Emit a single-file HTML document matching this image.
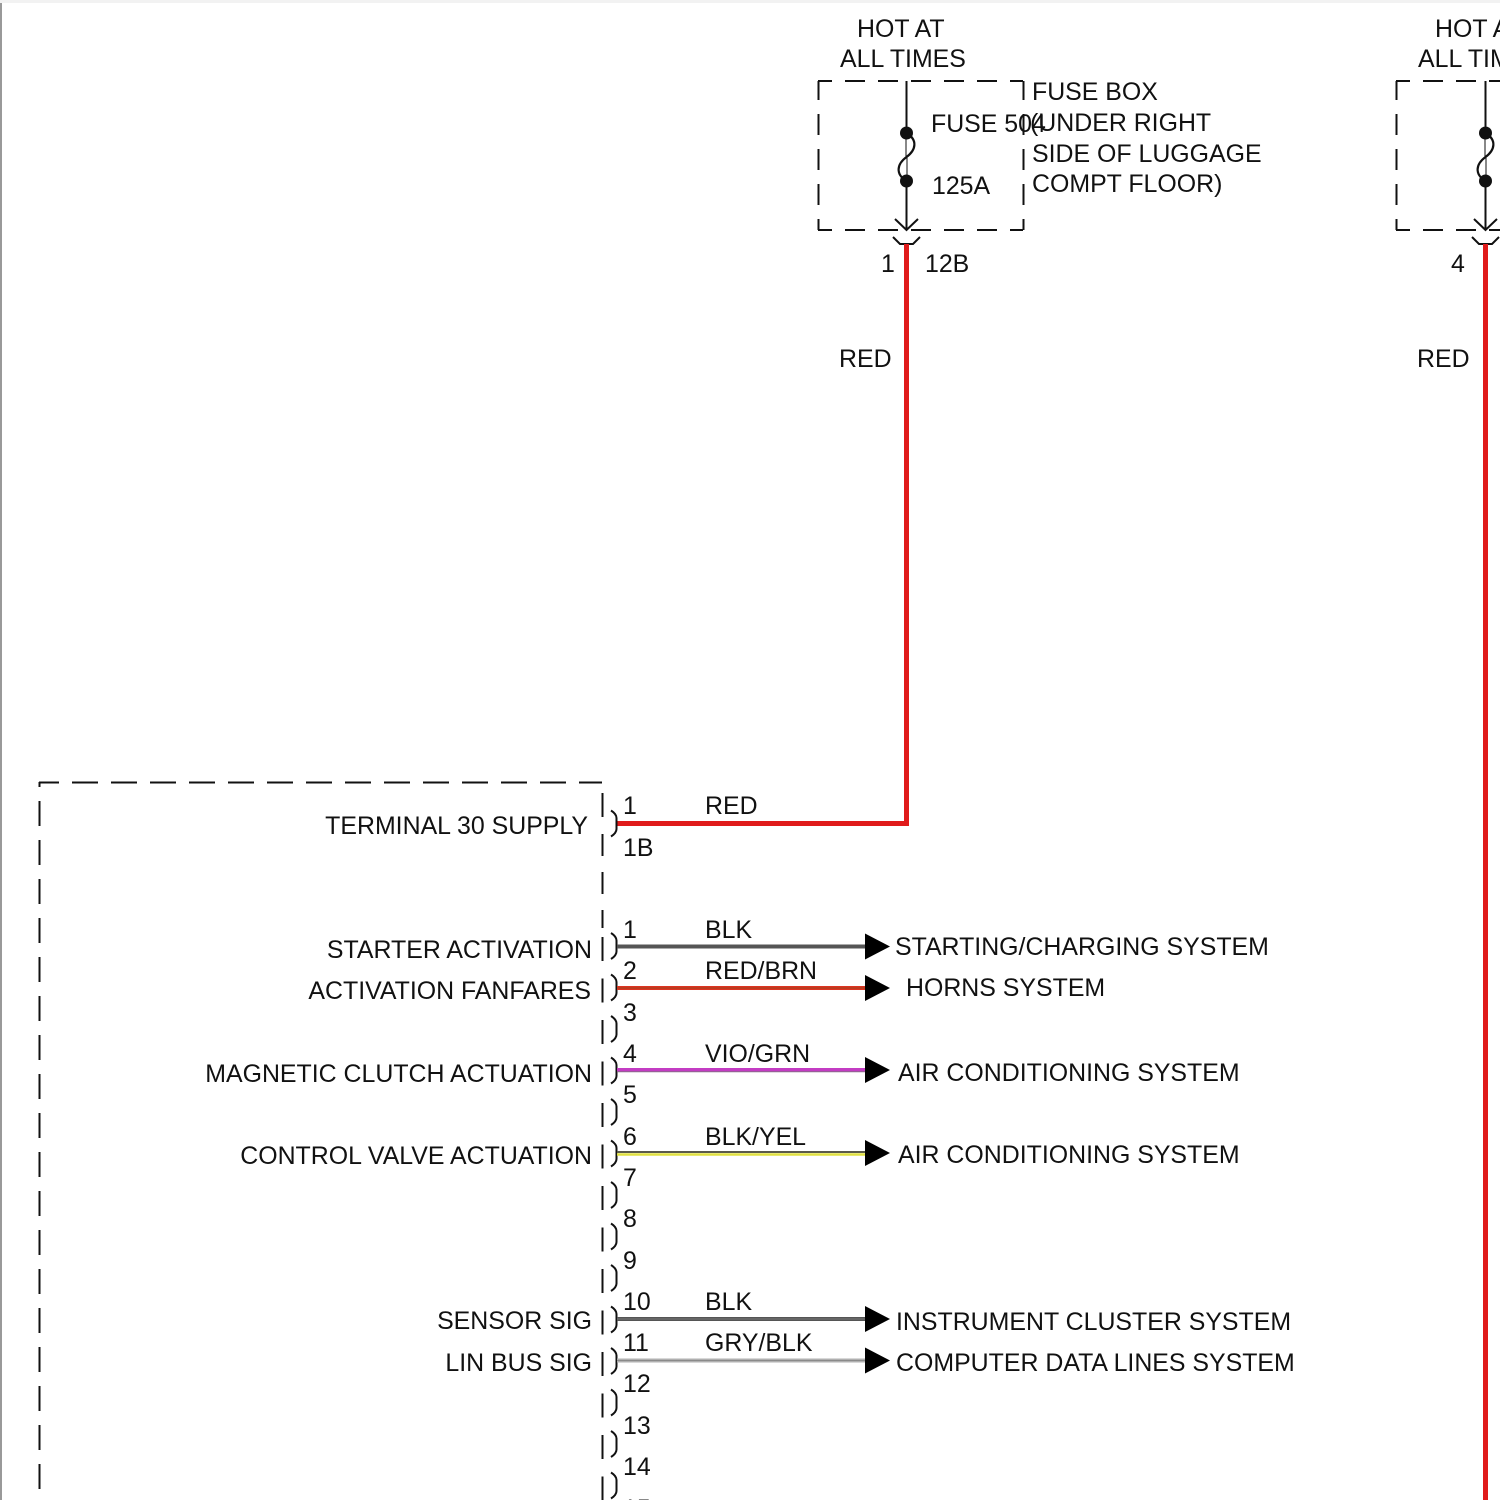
<!DOCTYPE html>
<html><head><meta charset="utf-8"><style>
html,body{margin:0;padding:0;background:#fff;}
svg{display:block;}
text{font-family:"Liberation Sans",Arial,sans-serif;font-size:24.9px;fill:#111;}
</style></head><body>
<svg width="1500" height="1500" viewBox="0 0 1500 1500" xmlns="http://www.w3.org/2000/svg">
<rect x="0" y="0" width="1500" height="1500" fill="#fff"/>
<line x1="1" y1="0" x2="1" y2="1500" stroke="#999" stroke-width="2"/>
<line x1="0" y1="1.5" x2="1500" y2="1.5" stroke="#f2f2f2" stroke-width="3"/>

<!-- Fuse box 1 -->
<g stroke="#111" stroke-width="2" fill="none">
<line x1="818" y1="81" x2="1023" y2="81" stroke-dasharray="20 13" stroke-dashoffset="6"/>
<line x1="818" y1="230" x2="1023" y2="230" stroke-dasharray="20 13" stroke-dashoffset="6"/>
<line x1="818.5" y1="81" x2="818.5" y2="230" stroke-dasharray="21 14" stroke-dashoffset="2"/>
<line x1="1023.5" y1="81" x2="1023.5" y2="230" stroke-dasharray="21 14" stroke-dashoffset="2"/>
<line x1="906.5" y1="81" x2="906.5" y2="230"/>
<path d="M906.5,133 C918,140 916,150 906.5,157 C897,164 895,174 906.5,181" fill="#fff" stroke-width="2.2"/>
<polyline points="895,219 906.5,230 918,219"/>
<polyline points="893,237 900,244 913,244 920,237"/>
</g>
<circle cx="906.5" cy="133" r="6.5" fill="#111"/>
<circle cx="906.5" cy="181" r="6.5" fill="#111"/>
<!-- red wire 1 -->
<polyline points="906.5,244 906.5,823.5 617,823.5" fill="none" stroke="#e01b1b" stroke-width="5"/>

<!-- Fuse box 2 -->
<g stroke="#111" stroke-width="2" fill="none">
<line x1="1396" y1="81" x2="1500" y2="81" stroke-dasharray="20 13" stroke-dashoffset="6"/>
<line x1="1396" y1="230" x2="1500" y2="230" stroke-dasharray="20 13" stroke-dashoffset="6"/>
<line x1="1396.5" y1="81" x2="1396.5" y2="230" stroke-dasharray="21 14" stroke-dashoffset="2"/>
<line x1="1485.5" y1="81" x2="1485.5" y2="230"/>
<path d="M1485.5,133 C1497,140 1495,150 1485.5,157 C1476,164 1474,174 1485.5,181" fill="#fff" stroke-width="2.2"/>
<polyline points="1474,219 1485.5,230 1497,219"/>
<polyline points="1472,237 1479,244 1492,244 1499,237"/>
</g>
<circle cx="1485.5" cy="133" r="6.5" fill="#111"/>
<circle cx="1485.5" cy="181" r="6.5" fill="#111"/>
<line x1="1485.5" y1="244" x2="1485.5" y2="1500" stroke="#e01b1b" stroke-width="5"/>

<!-- Component box -->
<g stroke="#111" stroke-width="2" fill="none">
<line x1="39" y1="782.5" x2="602" y2="782.5" stroke-dasharray="26 13" stroke-dashoffset="6"/>
<line x1="39.5" y1="782" x2="39.5" y2="1500" stroke-dasharray="25 14" stroke-dashoffset="20"/>
<line x1="602.5" y1="793" x2="602.5" y2="817"/>
<line x1="602.5" y1="834" x2="602.5" y2="856"/>
<line x1="602.5" y1="872" x2="602.5" y2="894"/>
<line x1="602.5" y1="910" x2="602.5" y2="928"/>
<path d="M611,810.5 Q616.5,814 616.5,818 L616.5,829 Q616.5,833 611,836.5"/>
</g>
<g stroke="#111" stroke-width="2" fill="none">
<line x1="602.5" y1="937" x2="602.5" y2="961"/><path d="M611,933 Q616.5,936.5 616.5,940.5 L616.5,951.5 Q616.5,955.5 611,959"/>
<line x1="602.5" y1="978.5" x2="602.5" y2="1002.5"/><path d="M611,974.5 Q616.5,978 616.5,982 L616.5,993 Q616.5,997 611,1000.5"/>
<line x1="602.5" y1="1020" x2="602.5" y2="1044"/><path d="M611,1016 Q616.5,1019.5 616.5,1023.5 L616.5,1034.5 Q616.5,1038.5 611,1042"/>
<line x1="602.5" y1="1061.5" x2="602.5" y2="1085.5"/><path d="M611,1057.5 Q616.5,1061 616.5,1065 L616.5,1076 Q616.5,1080 611,1083.5"/>
<line x1="602.5" y1="1103" x2="602.5" y2="1127"/><path d="M611,1099 Q616.5,1102.5 616.5,1106.5 L616.5,1117.5 Q616.5,1121.5 611,1125"/>
<line x1="602.5" y1="1144.5" x2="602.5" y2="1168.5"/><path d="M611,1140.5 Q616.5,1144 616.5,1148 L616.5,1159 Q616.5,1163 611,1166.5"/>
<line x1="602.5" y1="1186" x2="602.5" y2="1210"/><path d="M611,1182 Q616.5,1185.5 616.5,1189.5 L616.5,1200.5 Q616.5,1204.5 611,1208"/>
<line x1="602.5" y1="1227.5" x2="602.5" y2="1251.5"/><path d="M611,1223.5 Q616.5,1227 616.5,1231 L616.5,1242 Q616.5,1246 611,1249.5"/>
<line x1="602.5" y1="1269" x2="602.5" y2="1293"/><path d="M611,1265 Q616.5,1268.5 616.5,1272.5 L616.5,1283.5 Q616.5,1287.5 611,1291"/>
<line x1="602.5" y1="1310.5" x2="602.5" y2="1334.5"/><path d="M611,1306.5 Q616.5,1310 616.5,1314 L616.5,1325 Q616.5,1329 611,1332.5"/>
<line x1="602.5" y1="1352" x2="602.5" y2="1376"/><path d="M611,1348 Q616.5,1351.5 616.5,1355.5 L616.5,1366.5 Q616.5,1370.5 611,1374"/>
<line x1="602.5" y1="1393.5" x2="602.5" y2="1417.5"/><path d="M611,1389.5 Q616.5,1393 616.5,1397 L616.5,1408 Q616.5,1412 611,1415.5"/>
<line x1="602.5" y1="1435" x2="602.5" y2="1459"/><path d="M611,1431 Q616.5,1434.5 616.5,1438.5 L616.5,1449.5 Q616.5,1453.5 611,1457"/>
<line x1="602.5" y1="1476.5" x2="602.5" y2="1500"/><path d="M611,1472.5 Q616.5,1476 616.5,1480 L616.5,1491 Q616.5,1495 611,1498.5"/>
</g>

<!-- wires -->
<line x1="617" y1="946.5" x2="866" y2="946.5" stroke="#555" stroke-width="4"/>
<line x1="617" y1="988" x2="866" y2="988" stroke="#dd3322" stroke-width="4"/>
<line x1="617" y1="988" x2="866" y2="988" stroke="#a8401e" stroke-width="1.2"/>
<line x1="617" y1="1070" x2="866" y2="1070" stroke="#c33cc3" stroke-width="4"/>
<line x1="617" y1="1071.7" x2="866" y2="1071.7" stroke="#8a6a8a" stroke-width="1"/>
<line x1="617" y1="1152" x2="866" y2="1152" stroke="#5a5a4a" stroke-width="2"/>
<line x1="617" y1="1154.5" x2="866" y2="1154.5" stroke="#e0e040" stroke-width="2.5"/>
<line x1="617" y1="1319" x2="866" y2="1319" stroke="#555" stroke-width="4"/>
<line x1="617" y1="1319" x2="866" y2="1319" stroke="#777" stroke-width="1"/>
<line x1="617" y1="1360.5" x2="866" y2="1360.5" stroke="#b0b0b0" stroke-width="4"/>
<line x1="617" y1="1360.5" x2="866" y2="1360.5" stroke="#8a8a8a" stroke-width="1"/>

<!-- arrows -->
<g fill="#000">
<polygon points="865,933.5 890,946.5 865,959.5"/>
<polygon points="865,975 890,988 865,1001"/>
<polygon points="865,1057 890,1070 865,1083"/>
<polygon points="865,1140 890,1153 865,1166"/>
<polygon points="865,1306 890,1319 865,1332"/>
<polygon points="865,1347.5 890,1360.5 865,1373.5"/>
</g>

<!-- texts top -->
<text x="857" y="37">HOT AT</text>
<text x="840" y="67">ALL TIMES</text>
<text x="931" y="132">FUSE 504</text>
<text x="932" y="194">125A</text>
<text x="1032" y="100">FUSE BOX</text>
<text x="1030" y="131">(UNDER RIGHT</text>
<text x="1032" y="162">SIDE OF LUGGAGE</text>
<text x="1032" y="192">COMPT FLOOR)</text>
<text x="881" y="272">1</text>
<text x="925" y="272">12B</text>
<text x="839" y="367">RED</text>
<text x="1435" y="37">HOT AT</text>
<text x="1418" y="67">ALL TIMES</text>
<text x="1451" y="272">4</text>
<text x="1417" y="367">RED</text>

<!-- component texts -->
<text x="623" y="814">1</text>
<text x="705" y="814">RED</text>
<text x="623" y="856">1B</text>
<text x="588" y="834" text-anchor="end">TERMINAL 30 SUPPLY</text>

<text x="623" y="938">1</text>
<text x="705" y="938">BLK</text>
<text x="592" y="958" text-anchor="end">STARTER ACTIVATION</text>
<text x="895" y="955">STARTING/CHARGING SYSTEM</text>

<text x="623" y="979">2</text>
<text x="705" y="979">RED/BRN</text>
<text x="591" y="999" text-anchor="end">ACTIVATION FANFARES</text>
<text x="906" y="996">HORNS SYSTEM</text>

<text x="623" y="1021">3</text>

<text x="623" y="1062">4</text>
<text x="705" y="1062">VIO/GRN</text>
<text x="592" y="1082" text-anchor="end">MAGNETIC CLUTCH ACTUATION</text>
<text x="898" y="1081">AIR CONDITIONING SYSTEM</text>

<text x="623" y="1103">5</text>

<text x="623" y="1145">6</text>
<text x="705" y="1145">BLK/YEL</text>
<text x="592" y="1164" text-anchor="end">CONTROL VALVE ACTUATION</text>
<text x="898" y="1163">AIR CONDITIONING SYSTEM</text>

<text x="623" y="1186">7</text>
<text x="623" y="1227">8</text>
<text x="623" y="1269">9</text>

<text x="623" y="1310">10</text>
<text x="705" y="1310">BLK</text>
<text x="592" y="1329" text-anchor="end">SENSOR SIG</text>
<text x="896" y="1330">INSTRUMENT CLUSTER SYSTEM</text>

<text x="623" y="1351">11</text>
<text x="705" y="1351">GRY/BLK</text>
<text x="592" y="1371" text-anchor="end">LIN BUS SIG</text>
<text x="896" y="1371">COMPUTER DATA LINES SYSTEM</text>

<text x="623" y="1392">12</text>
<text x="623" y="1434">13</text>
<text x="623" y="1475">14</text>
<text x="623" y="1517">15</text>
</svg>
</body></html>
